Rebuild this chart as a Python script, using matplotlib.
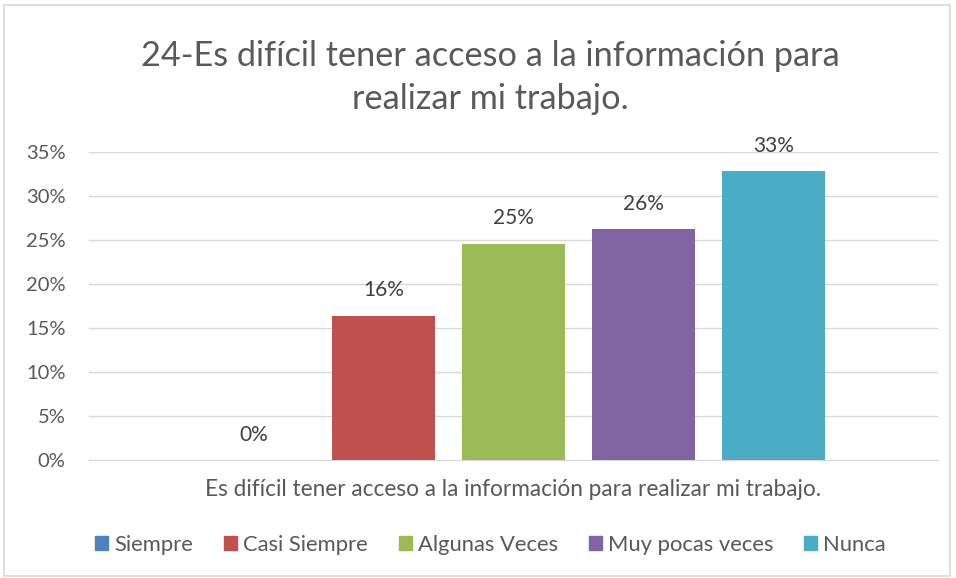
import matplotlib.pyplot as plt
from matplotlib.patches import Rectangle

categorias = ['Siempre', 'Casi Siempre', 'Algunas Veces', 'Muy pocas veces', 'Nunca']
valores = [0.0, 16.39, 24.59, 26.23, 32.79]
etiquetas = ['0%', '16%', '25%', '26%', '33%']
colores = ['#4F81BD', '#C0504D', '#9BBB59', '#8064A2', '#4BACC6']
ticks_y = [0, 5, 10, 15, 20, 25, 30, 35]

plt.rcParams['font.family'] = ['Lato', 'DejaVu Sans']
gris = '#595959'

fig = plt.figure(figsize=(9.56, 5.78), dpi=100)
ax = fig.add_axes([0.0931, 0.2042, 0.8879, 0.5329])

x = list(range(len(categorias)))
barras = ax.bar(x, valores, width=0.79, color=colores, zorder=3)
for xi, v, t in zip(x, valores, etiquetas):
    ax.annotate(t, (xi, v), xytext=(0, 11), textcoords='offset points',
                ha='center', va='bottom', fontsize=15, color='#404040')

ax.set_xlim(2 - 3.265, 2 + 3.265)
ax.set_ylim(0, 35)
ax.set_yticks(ticks_y)
ax.set_yticklabels([f'{t}%' for t in ticks_y], fontsize=14.5, color=gris)
ax.set_xticks([])
ax.grid(axis='y', color='#D9D9D9', linewidth=1, zorder=0)
for s in ['top', 'right', 'left']:
    ax.spines[s].set_visible(False)
ax.spines['bottom'].set_color('#D9D9D9')
ax.tick_params(axis='y', length=0, pad=17)

ax.set_xlabel('Es difícil tener acceso a la información para realizar mi trabajo.',
              fontsize=16.3, color=gris, labelpad=14)

fig.text(0.5125, 0.866, '24-Es difícil tener acceso a la información para\nrealizar mi trabajo.',
         ha='center', va='center', fontsize=24.7, color=gris, linespacing=1.45)

handles = [Rectangle((0, 0), 1, 1, color=c) for c in colores]
fig.legend(handles, categorias, loc='center', bbox_to_anchor=(0.513, 0.057),
           ncol=5, frameon=False, fontsize=15.8, handlelength=0.6, handleheight=0.6,
           handletextpad=0.27, columnspacing=1.4, labelcolor=gris)

fig.patches.append(Rectangle((0.004, 0.004), 0.99, 0.988, transform=fig.transFigure,
                             fill=False, edgecolor='#D9D9D9', linewidth=1.2))

fig.savefig('out.png', dpi=100)
